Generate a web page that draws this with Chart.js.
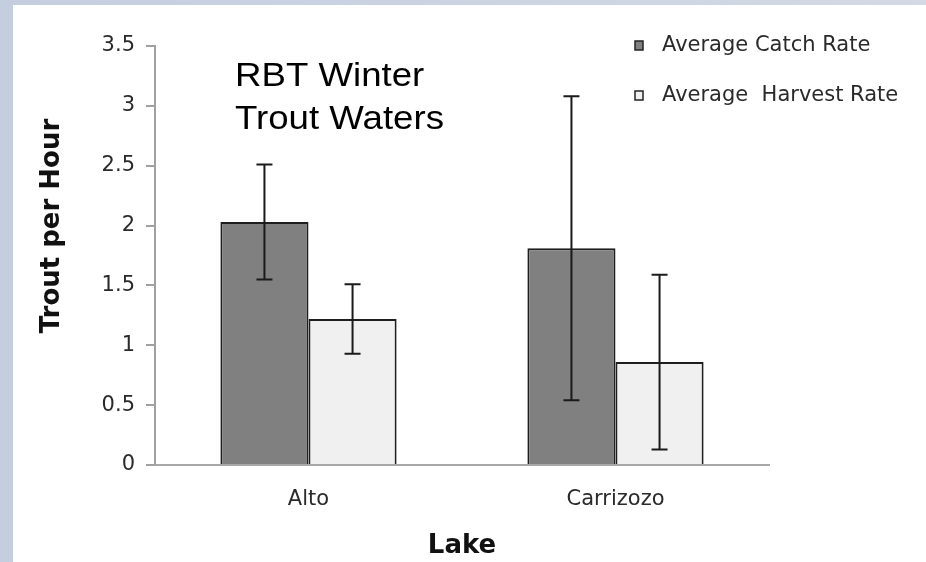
<!DOCTYPE html>
<html>
<head>
<meta charset="utf-8">
<script src="https://cdn.jsdelivr.net/npm/chart.js@4.4.1/dist/chart.umd.min.js"></script>
<style>
   html, body { margin: 0; padding: 0; }
   body { width: 926px; height: 562px; overflow: hidden; position: relative; background: linear-gradient(90deg, #c4cede, #d3d9e5); }
   #wrap { position: absolute; left: 13px; top: 5px; width: 913px; height: 557px; background: #fff; }
</style>
</head>
<body>
<div id="wrap"><canvas id="myChart"></canvas></div>
<script>
const lakes = ['Alto', 'Carrizozo'];
const catchRate = [2.03, 1.81];
const catchErr = [0.48, 1.27];
const harvestRate = [1.22, 0.86];
const harvestErr = [0.29, 0.73];
const yTicks = [0, 0.5, 1, 1.5, 2, 2.5, 3, 3.5];
const noteLines = ['RBT Winter', 'Trout Waters'];

Chart.defaults.font.family = 'DejaVu Sans';
Chart.defaults.color = '#2a2a2a';

// whiskers drawn from the bar elements and the y scale
const errorBars = {
   id: 'errorBars',
   afterDatasetsDraw(chart) {
      const ctx = chart.ctx;
      const y = chart.scales.y;
      ctx.save();
      ctx.strokeStyle = '#1a1a1a';
      ctx.lineWidth = 2;
      chart.data.datasets.forEach((ds, i) => {
         chart.getDatasetMeta(i).data.forEach((bar, j) => {
            const top = y.getPixelForValue(ds.data[j] + ds.err[j]);
            const bot = y.getPixelForValue(ds.data[j] - ds.err[j]);
            ctx.beginPath();
            ctx.moveTo(bar.x, top); ctx.lineTo(bar.x, bot);
            ctx.moveTo(bar.x - 8, top); ctx.lineTo(bar.x + 8, top);
            ctx.moveTo(bar.x - 8, bot); ctx.lineTo(bar.x + 8, bot);
            ctx.stroke();
         });
      });
      ctx.restore();
   }
};

// legend, note text and the y title
const extras = {
   id: 'extras',
   afterDraw(chart) {
      const ctx = chart.ctx;
      ctx.save();

      chart.data.datasets.forEach((ds, i) => {
         const yy = 41 + i * 50;
         ctx.fillStyle = ds.backgroundColor;
         ctx.strokeStyle = '#222';
         ctx.lineWidth = 1.5;
         ctx.fillRect(622, yy - 5, 8, 9);
         ctx.strokeRect(622, yy - 5, 8, 9);
         ctx.fillStyle = '#2a2a2a';
         ctx.font = '21px "DejaVu Sans"';
         ctx.textBaseline = 'middle';
         ctx.textAlign = 'left';
         ctx.fillText(ds.label, 649, yy);
      });

      ctx.fillStyle = '#000';
      ctx.font = '33px "Liberation Sans"';
      ctx.textBaseline = 'alphabetic';
      noteLines.forEach((t, i) => {
         ctx.save();
         ctx.translate(222, 81 + i * 42.5);
         ctx.scale(1.11, 1);
         ctx.fillText(t, 0, 0);
         ctx.restore();
      });

      ctx.fillStyle = '#111';
      ctx.font = 'bold 26px "DejaVu Sans"';
      ctx.textAlign = 'center';
      ctx.textBaseline = 'middle';
      ctx.translate(39, 221);
      ctx.rotate(-Math.PI / 2);
      ctx.fillText('Trout per Hour', 0, 0);
      ctx.restore();
   }
};

const data = {
   labels: lakes,
   datasets: [{
      label: 'Average Catch Rate',
      data: catchRate,
      err: catchErr,
      backgroundColor: '#808080',
      borderColor: '#1e1e1e',
      borderWidth: 2
   }, {
      label: 'Average  Harvest Rate',
      data: harvestRate,
      err: harvestErr,
      backgroundColor: '#f0f0f0',
      borderColor: '#1e1e1e',
      borderWidth: 2
   }]
};

const config = {
   type: 'bar',
   data: data,
   options: {
      responsive: true,
      maintainAspectRatio: false,
      animation: false,
      layout: { padding: { top: 41, right: 157, left: 0, bottom: 0 } },
      datasets: { bar: { categoryPercentage: 0.574, barPercentage: 1 } },
      plugins: { legend: { display: false }, tooltip: { enabled: false } },
      scales: {
         x: {
            grid: { display: false, drawTicks: false },
            border: { color: '#a8a8a8', width: 2 },
            ticks: { padding: 22, font: { size: 21 }, color: '#2a2a2a' },
            title: { display: true, text: 'Lake', color: '#111', font: { size: 26, weight: 'bold' }, padding: 0 },
            afterFit: (s) => { s.height = 97; }
         },
         y: {
            min: 0,
            max: 3.5,
            afterBuildTicks: (s) => { s.ticks = yTicks.map(v => ({ value: v })); },
            grid: { drawOnChartArea: false, drawTicks: true, tickLength: 9, color: '#a0a0a0', lineWidth: 2 },
            border: { color: '#a0a0a0', width: 2 },
            ticks: { padding: 11, font: { size: 21 }, color: '#2a2a2a', callback: (v) => String(v) },
            afterFit: (s) => { s.width = 142; }
         }
      }
   },
   plugins: [errorBars, extras]
};

var ctx = document.getElementById('myChart').getContext('2d');
var myChart = new Chart(ctx, config);
</script>
</body>
</html>
